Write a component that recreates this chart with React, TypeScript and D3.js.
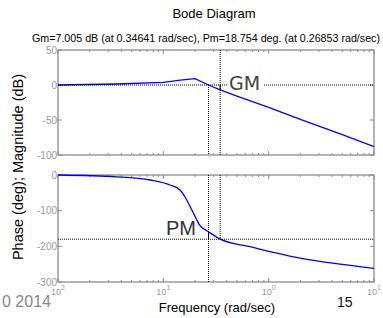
import React from "react";
import { scaleLog, scaleLinear, line, curveMonotoneX, curveLinear } from "d3";

// magnitude (dB)
const magFreq = [0.01, 0.036, 0.1, 0.145, 0.2, 0.2685, 0.3464, 0.5, 1, 2, 5, 10];
const magDb = [0, 1.4, 3.8, 7, 9, 0, -7, -16, -32, -49, -71, -88];

// phase (deg)
const phFreq = [0.01, 0.036, 0.075, 0.116, 0.144, 0.16, 0.18, 0.208, 0.22, 0.2685, 0.3464, 0.665, 1.99, 4.76, 10];
const phDeg = [0, -5, -14, -28, -42, -61, -89, -126, -140, -159, -180, -201, -233, -250, -262];

const magTicks = [50, 0, -50, -100];
const phTicks = [0, -100, -200, -300];
const freqTicks = [0.01, 0.1, 1, 10];
const freqExp = ["2", "1", "0", "1"];

const gmFreq = 0.34641;
const pmFreq = 0.26853;
const gmDb = -7.005;
const pmDeg = -159;

const FONT = "'Liberation Sans', Arial, sans-serif";
const FRAME = "#8c8c8c";
const TICKTXT = "#999";

export default function App() {
  const W = 383;
  const H = 318;
  const left = 58;
  const right = 374;

  const x = scaleLog().domain([0.01, 10]).range([left, right]);
  const yMag = scaleLinear().domain([-100, 50]).range([155, 50]);
  const yPh = scaleLinear().domain([-300, 0]).range([282, 175]);

  const magLine = line<number>()
    .x((d, i) => x(magFreq[i]))
    .y((d) => yMag(d))
    .curve(curveLinear);
  const phLine = line<number>()
    .x((d, i) => x(phFreq[i]))
    .y((d) => yPh(d))
    .curve(curveMonotoneX);

  const minors: number[] = [];
  [0.01, 0.1, 1].forEach((dec) => {
    for (let k = 2; k <= 9; k++) minors.push(dec * k);
  });

  const frame = (y0: number, y1: number, yScale: any, ticks: number[], key: string) => (
    <g key={key}>
      {freqTicks.map((f) => (
        <g key={f}>
          <line x1={x(f)} x2={x(f)} y1={y0} y2={y0 + 4} stroke={FRAME} />
          <line x1={x(f)} x2={x(f)} y1={y1} y2={y1 - 4} stroke={FRAME} />
        </g>
      ))}
      {minors.map((f) => (
        <g key={f}>
          <line x1={x(f)} x2={x(f)} y1={y0} y2={y0 + 2} stroke={FRAME} />
          <line x1={x(f)} x2={x(f)} y1={y1} y2={y1 - 2} stroke={FRAME} />
        </g>
      ))}
      {ticks.map((t) => (
        <g key={t}>
          <line x1={left} x2={left + 4} y1={yScale(t)} y2={yScale(t)} stroke={FRAME} />
          <line x1={right} x2={right - 4} y1={yScale(t)} y2={yScale(t)} stroke={FRAME} />
          <text
            x={left - 1}
            y={yScale(t)}
            dy="0.35em"
            textAnchor="end"
            fontSize={10}
            fill={TICKTXT}
            fontFamily={FONT}
          >
            {t}
          </text>
        </g>
      ))}
      <rect x={left} y={y0} width={right - left} height={y1 - y0} fill="none" stroke={FRAME} strokeWidth={1.3} />
    </g>
  );

  const dot = { stroke: "#000", strokeWidth: 1, strokeDasharray: "1,1" };

  return (
    <svg width={W} height={H} style={{ position: "absolute", left: 0, top: 0, background: "#fff" }}>
      <text x={214} y={18} textAnchor="middle" fontSize={13} fontFamily={FONT} fill="#000">
        Bode Diagram
      </text>
      <text
        x={32}
        y={42}
        fontSize={10.8}
        fontFamily={FONT}
        fill="#000"
        textLength={348}
        lengthAdjust="spacingAndGlyphs"
      >
        Gm=7.005 dB (at 0.34641 rad/sec), Pm=18.754 deg. (at 0.26853 rad/sec)
      </text>

      {frame(50, 155, yMag, magTicks, "mag")}
      {frame(175, 282, yPh, phTicks, "ph")}

      <path d={magLine(magDb) || ""} fill="none" stroke="#0000ff" strokeWidth={1.3} />
      <path d={phLine(phDeg) || ""} fill="none" stroke="#0000ff" strokeWidth={1.3} />

      {/* margin markers */}
      <line x1={left} x2={right} y1={yMag(0)} y2={yMag(0)} {...dot} />
      <line x1={x(gmFreq)} x2={x(gmFreq)} y1={50} y2={155} {...dot} />
      <line x1={x(pmFreq)} x2={x(pmFreq)} y1={yMag(0)} y2={155} {...dot} />
      <line x1={x(gmFreq)} x2={x(gmFreq)} y1={yMag(0)} y2={yMag(gmDb)} stroke="#000" />

      <line x1={left} x2={right} y1={yPh(-180)} y2={yPh(-180)} {...dot} />
      <line x1={x(pmFreq)} x2={x(pmFreq)} y1={175} y2={282} {...dot} />
      <line x1={x(gmFreq)} x2={x(gmFreq)} y1={175} y2={yPh(-180)} {...dot} />
      <line x1={x(pmFreq)} x2={x(pmFreq)} y1={yPh(pmDeg)} y2={yPh(-180)} stroke="#000" />

      <rect x={228} y={76} width={35} height={16} fill="#fff" />
      <text x={229} y={90} fontSize={19} fontFamily="'DejaVu Sans', Verdana, sans-serif" fill="#444">
        GM
      </text>
      <text x={166} y={235} fontSize={20} fontFamily={FONT} fill="#333">
        PM
      </text>

      {freqTicks.map((f, i) => (
        <text key={f} x={x(f)} y={295} textAnchor="middle" fontSize={9} fontFamily={FONT} fill={TICKTXT}>
          10
          <tspan dy={-5} fontSize={7}>
            {freqExp[i]}
          </tspan>
        </text>
      ))}

      <text x={217} y={312} textAnchor="middle" fontSize={13} fontFamily={FONT} fill="#000">
        Frequency (rad/sec)
      </text>
      <text
        transform="translate(23,167) rotate(-90)"
        textAnchor="middle"
        fontSize={14.5}
        fontFamily={FONT}
        fill="#000"
      >
        Phase (deg); Magnitude (dB)
      </text>

      <text x={2} y={307} fontSize={16} fontFamily={FONT} fill="#888">
        0 2014
      </text>
      <text x={337} y={307} fontSize={14} fontFamily={FONT} fill="#111">
        15
      </text>
    </svg>
  );
}
